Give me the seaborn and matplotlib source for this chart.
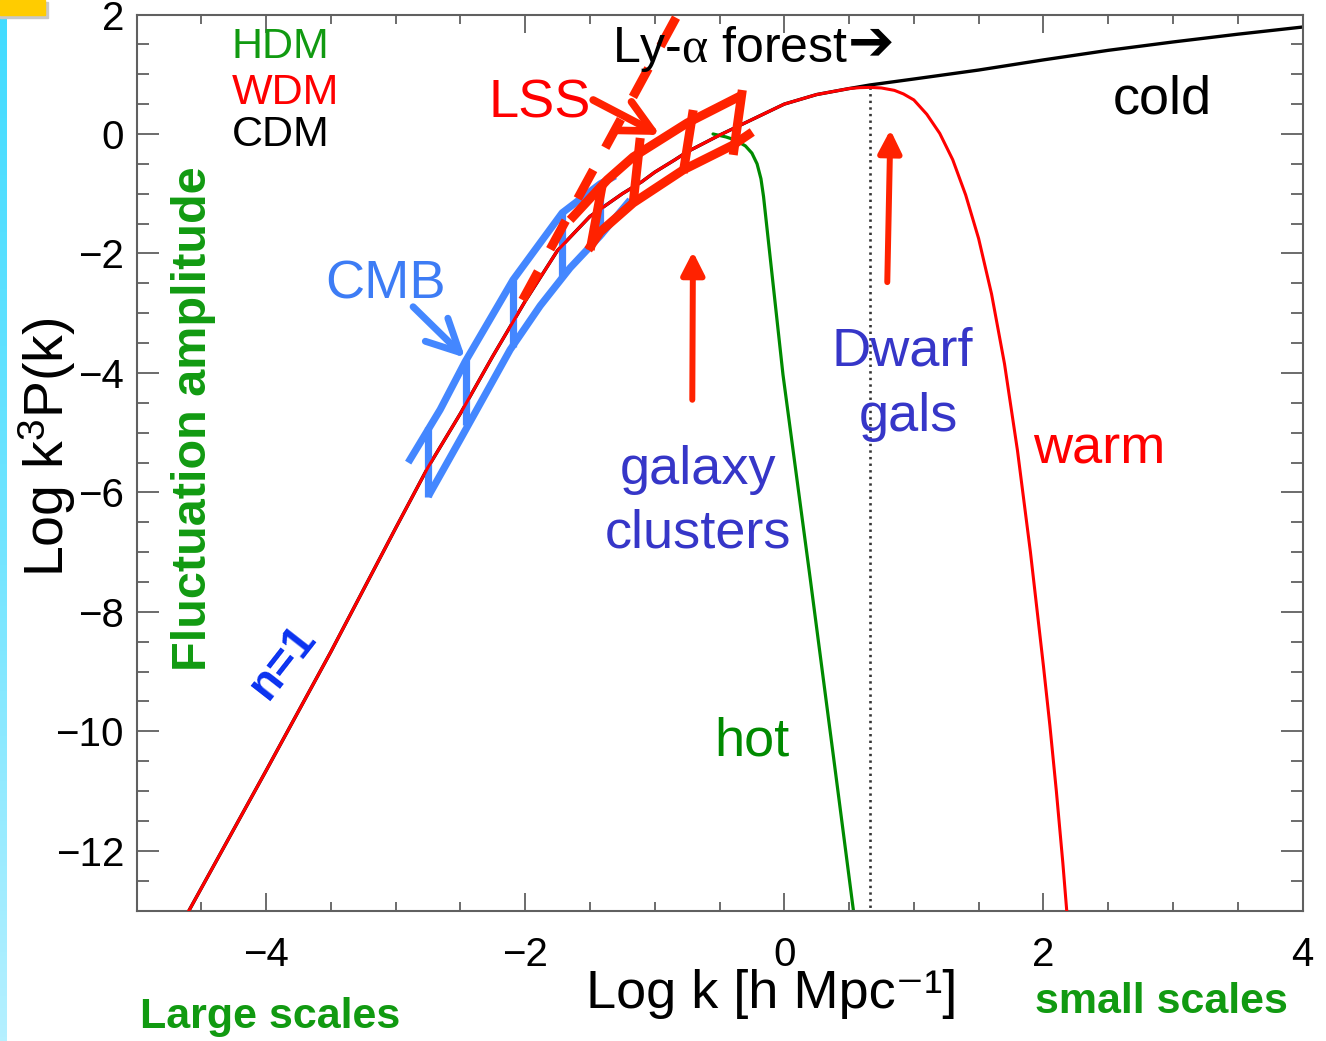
import numpy as np
import pandas as pd
import matplotlib
matplotlib.use("Agg")
import matplotlib.pyplot as plt
import seaborn as sns
from matplotlib.ticker import MultipleLocator
from matplotlib.patches import Rectangle
from matplotlib.colors import LinearSegmentedColormap

# ---------------- data ----------------
# shared large-scale part (CDM = WDM = HDM there)
base_logk = [-4.62, -4.0, -3.5, -3.0, -2.75, -2.5, -2.25, -2.0, -1.75, -1.5,
             -1.25, -1.1, -1.0, -0.85, -0.75, -0.5, -0.25, 0.0, 0.25, 0.5]
base_logp = [-13.1, -10.66, -8.67, -6.6, -5.58, -4.68, -3.72, -2.80, -1.95, -1.38,
             -1.00, -0.80, -0.64, -0.44, -0.30, -0.02, 0.24, 0.50, 0.66, 0.76]
# cold tail
cdm_tail_logk = [0.66, 1.0, 1.5, 2.0, 2.5, 3.0, 3.5, 4.0]
cdm_tail_logp = [0.82, 0.92, 1.07, 1.24, 1.40, 1.54, 1.67, 1.79]
# warm tail
wdm_tail_logk = [0.58, 0.66, 0.75, 0.85, 0.92, 1.0, 1.1, 1.2, 1.3, 1.4, 1.5, 1.6,
                 1.7, 1.8, 1.9, 2.0, 2.05, 2.1, 2.15, 2.18, 2.19]
wdm_tail_logp = [0.775, 0.78, 0.77, 0.73, 0.67, 0.57, 0.33, 0.01, -0.43, -1.02,
                 -1.75, -2.68, -3.85, -5.3, -7.0, -8.9, -9.9, -11.0, -12.2, -13.0, -13.2]
# hot
hdm_logk = [-0.55, -0.45, -0.38, -0.30, -0.25, -0.21, -0.18, -0.16, -0.01, 0.20, 0.38, 0.53, 0.54]
hdm_logp = [0.0, -0.05, -0.10, -0.20, -0.32, -0.50, -0.75, -1.05, -4.03, -7.44, -10.43, -12.94, -13.1]

# dotted marker of the WDM turnover
turn_logk = 0.66
turn_top, turn_bottom = 0.79, -13.0

# CMB constraint band (blue)
cmb_up_x = [-2.903, -2.656, -2.463, -2.093, -1.884, -1.714, -1.421, -1.305]
cmb_up_y = [-5.502, -4.615, -3.813, -2.441, -1.823, -1.321, -0.836, -0.702]
cmb_lo_x = [-2.749, -2.502, -2.116, -1.884, -1.653, -1.421, -1.189]
cmb_lo_y = [-6.070, -5.117, -3.612, -2.876, -2.241, -1.706, -1.104]
cmb_bar_x = [-2.749, -2.456, -2.093, -1.714, -1.421]
cmb_bar_top = [-4.90, -3.79, -2.44, -1.32, -0.84]
cmb_bar_bot = [-6.07, -4.88, -3.56, -2.39, -1.71]

# LSS constraint band (red)
lss_up_x = [-1.653, -1.367, -1.166, -0.749, -0.340]
lss_up_y = [-1.438, -0.769, -0.385, 0.184, 0.635]
lss_lo_x = [-1.514, -1.421, -1.166, -0.780, -0.394, -0.247]
lss_lo_y = [-1.940, -1.639, -1.154, -0.602, -0.184, 0.033]
lss_bar_x0 = [-1.405, -1.112, -0.703, -0.324]
lss_bar_y0 = [-0.853, -0.067, 0.401, 0.736]
lss_bar_x1 = [-1.498, -1.166, -0.780, -0.394]
lss_bar_y1 = [-1.940, -1.154, -0.652, -0.351]
lss_dash_x = [-2.02, -0.83]
lss_dash_y = [-2.78, 1.97]

# arrows (tail -> tip)
cmb_arrow = ((-2.865, -2.893), (-2.463, -3.746))
lss_arrow = ((-1.475, 0.569), (-0.958, -0.017))
up_arrows = [((-0.710, -4.45), (-0.705, -1.97)),
             ((0.795, -2.48), (0.819, 0.07))]

xticks = [-4, -2, 0, 2, 4]
yticks = [-12, -10, -8, -6, -4, -2, 0, 2]

# ---------------- style ----------------
sns.set_theme(style="ticks")
plt.rcParams['font.family'] = ['Liberation Sans', 'DejaVu Sans']
plt.rcParams['mathtext.fontset'] = 'custom'
plt.rcParams['mathtext.rm'] = 'Liberation Sans'
plt.rcParams['mathtext.it'] = 'Liberation Serif'
plt.rcParams['mathtext.bf'] = 'Liberation Sans:bold'

W, H = 1326, 1041
fig = plt.figure(figsize=(W / 100, H / 100), dpi=100)
fig.patch.set_facecolor('white')
ax = fig.add_axes([136.5 / W, 1 - 910.5 / H, 1166 / W, 896 / H])

RED = '#ff0000'
BOXRED = '#ff2200'
BLUE = '#4487ff'
GREEN = '#008a00'
TGREEN = '#119a11'
PURPLE = '#3636c8'

cdm = pd.DataFrame({'logk': base_logk + cdm_tail_logk, 'logp': base_logp + cdm_tail_logp})
wdm = pd.DataFrame({'logk': base_logk + wdm_tail_logk, 'logp': base_logp + wdm_tail_logp})
hdm = pd.DataFrame({'logk': hdm_logk, 'logp': hdm_logp})

sns.lineplot(data=cdm, x='logk', y='logp', color='black', lw=2.4, ax=ax, sort=False, estimator=None, zorder=2)
sns.lineplot(data=hdm, x='logk', y='logp', color=GREEN, lw=2.3, ax=ax, sort=False, estimator=None, zorder=2)
ax.plot([turn_logk, turn_logk], [turn_top, turn_bottom], color='#333333', lw=1.9,
        dashes=(0.9, 1.6), zorder=2)

# CMB band
bkw = dict(color=BLUE, lw=5.2, solid_capstyle='butt', zorder=3)
sns.lineplot(x=cmb_up_x, y=cmb_up_y, ax=ax, sort=False, estimator=None, **bkw)
sns.lineplot(x=cmb_lo_x, y=cmb_lo_y, ax=ax, sort=False, estimator=None, **bkw)
for bx, bt, bb in zip(cmb_bar_x, cmb_bar_top, cmb_bar_bot):
    ax.plot([bx, bx], [bt, bb], **bkw)

# warm curve on top of blue band
sns.lineplot(data=wdm, x='logk', y='logp', color=RED, lw=2.2, ax=ax, sort=False, estimator=None, zorder=4)

# LSS band
rkw = dict(color=BOXRED, lw=6.5, solid_capstyle='butt', zorder=5)
sns.lineplot(x=lss_up_x, y=lss_up_y, ax=ax, sort=False, estimator=None, **rkw)
sns.lineplot(x=lss_lo_x, y=lss_lo_y, ax=ax, sort=False, estimator=None, **rkw)
for x0, y0, x1, y1 in zip(lss_bar_x0, lss_bar_y0, lss_bar_x1, lss_bar_y1):
    ax.plot([x0, x1], [y0, y1], **rkw)
ax.plot(lss_dash_x, lss_dash_y, color=BOXRED, lw=6.5, dashes=(3.6, 2.8),
        dash_capstyle='butt', zorder=5)

# arrows
ax.annotate('', xy=cmb_arrow[1], xytext=cmb_arrow[0],
            arrowprops=dict(arrowstyle='->,head_length=0.4,head_width=0.2', lw=5,
                            color=BLUE, mutation_scale=58, shrinkA=0, shrinkB=0), zorder=6)
ax.annotate('', xy=lss_arrow[1], xytext=lss_arrow[0],
            arrowprops=dict(arrowstyle='->,head_length=0.4,head_width=0.2', lw=5.5,
                            color=BOXRED, mutation_scale=58, shrinkA=0, shrinkB=0), zorder=6)
for tail, tip in up_arrows:
    ax.annotate('', xy=tip, xytext=tail,
                arrowprops=dict(arrowstyle='-|>,head_length=0.55,head_width=0.28', lw=4.3,
                                color=BOXRED, mutation_scale=25, shrinkA=0, shrinkB=0), zorder=6)

# axes
ax.set_xlim(-5, 4)
ax.set_ylim(-13, 2)
ax.xaxis.set_major_locator(MultipleLocator(2))
ax.xaxis.set_minor_locator(MultipleLocator(0.5))
ax.yaxis.set_major_locator(MultipleLocator(2))
ax.yaxis.set_minor_locator(MultipleLocator(0.5))
ax.set_xticks(xticks)
ax.set_yticks(yticks)
for sp in ax.spines.values():
    sp.set_color('#606060')
    sp.set_linewidth(1.5)
    sp.set_visible(True)
ax.tick_params(which='both', direction='in', top=True, right=True, color='#606060',
               labelcolor='black', labelsize=29, width=1.3)
ax.tick_params(axis='x', which='major', length=13, pad=18)
ax.tick_params(axis='x', which='minor', length=6.5)
ax.tick_params(axis='y', which='major', length=16, pad=9)
ax.tick_params(axis='y', which='minor', length=8.5)

ax.set_xlabel('Log k [h Mpc\u207b\u00b9]', fontsize=39, color='black')
ax.xaxis.label.set_va('baseline')
ax.xaxis.set_label_coords((772 - 136.5) / 1166, (910.5 - 1008) / 896)
ax.set_ylabel(r'Log k$^3$P(k)', fontsize=40, color='black')
ax.yaxis.label.set_va('baseline')
ax.yaxis.set_label_coords((64 - 136.5) / 1166, (910.5 - 447) / 896)


def ftxt(x, y, s, **kw):
    kw.setdefault('va', 'baseline')
    return fig.text(x / W, 1 - y / H, s, **kw)


ftxt(232, 58, 'HDM', color=TGREEN, fontsize=31)
ftxt(232, 104, 'WDM', color=RED, fontsize=31)
ftxt(232, 146, 'CDM', color='black', fontsize=31)
ftxt(612, 62, r'Ly-$\alpha$ forest', color='black', fontsize=36)
ftxt(848, 44, '\u2794', color='black', fontsize=40, family='DejaVu Sans',
     fontweight='bold', va='center')
ftxt(1113, 113, 'cold', color='black', fontsize=39)
ftxt(488, 118, 'LSS', color=RED, fontsize=39)
ftxt(325, 298, 'CMB', color='#3d7cf5', fontsize=39)
ftxt(902, 365, 'Dwarf', color=PURPLE, fontsize=39, ha='center')
ftxt(908, 431, 'gals', color=PURPLE, fontsize=39, ha='center')
ftxt(698, 484, 'galaxy', color=PURPLE, fontsize=39, ha='center')
ftxt(698, 547, 'clusters', color=PURPLE, fontsize=39, ha='center')
ftxt(1033, 463, 'warm', color=RED, fontsize=39)
ftxt(714, 756, 'hot', color=GREEN, fontsize=39)
ftxt(283, 662, 'n=1', color='#0a32f0', fontsize=33, fontweight='bold', rotation=52,
     rotation_mode='anchor', ha='center', va='center')
ftxt(206, 419, 'Fluctuation amplitude', color=TGREEN, fontsize=35, fontweight='bold',
     rotation=90, rotation_mode='anchor', ha='center')
ftxt(270, 1028, 'Large scales', color=TGREEN, fontsize=31, fontweight='bold', ha='center')
ftxt(1161, 1013, 'small scales', color=TGREEN, fontsize=31, fontweight='bold', ha='center')

# slide decorations: cyan strip at left, yellow tag at top-left
sax = fig.add_axes([0, 0, 7 / W, 1])
cmap = LinearSegmentedColormap.from_list('strip', ['#40dbff', '#6fe4ff', '#b5f0ff'])
sax.imshow(np.linspace(0, 1, 256)[:, None], aspect='auto', cmap=cmap)
sax.set_axis_off()
fig.add_artist(Rectangle((0, 1 - 18 / H), 48 / W, 16 / H, transform=fig.transFigure,
                         color='#c8c8c8', zorder=8))
fig.add_artist(Rectangle((0, 1 - 15 / H), 45 / W, 15 / H, transform=fig.transFigure,
                         color='#ffcc00', zorder=9))

fig.savefig('out.png', dpi=100, facecolor='white')
